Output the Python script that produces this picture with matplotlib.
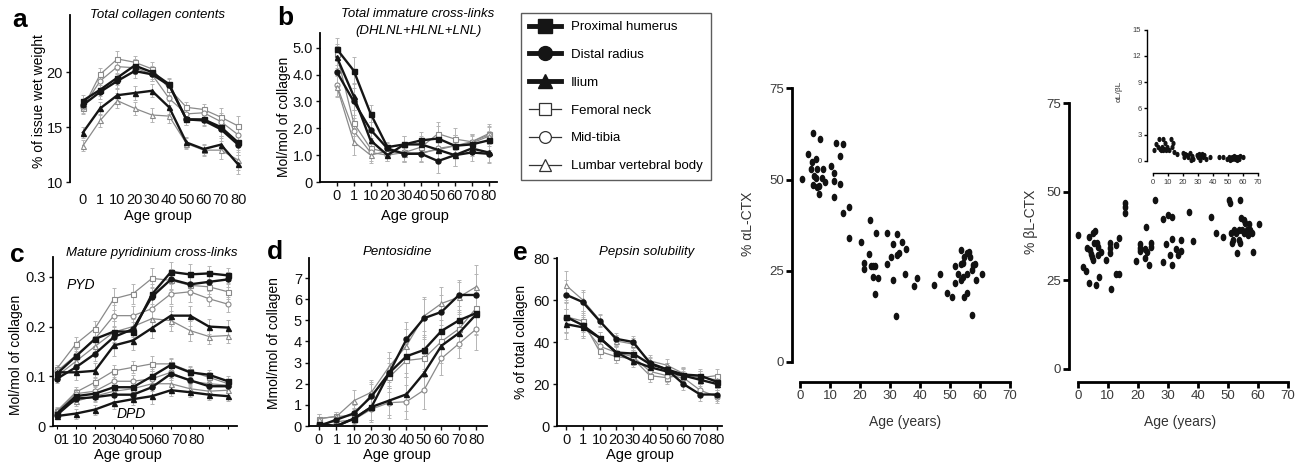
import matplotlib
matplotlib.use("Agg")
import matplotlib.pyplot as plt
from matplotlib.lines import Line2D
from matplotlib.markers import MarkerStyle
from matplotlib.transforms import Affine2D

plt.rcParams["font.family"] = ["Liberation Sans", "DejaVu Sans"]

W, H = 1305, 466

# ---- data ---------------------------------------------------------------
age_groups = ["0", "1", "10", "20", "30", "40", "50", "60", "70", "80"]
sites = ["Proximal humerus", "Distal radius", "Ilium",
         "Femoral neck", "Mid-tibia", "Lumbar vertebral body"]

# a: total collagen contents (% of tissue wet weight), one row per site
collagen_content = [
    [17.4, 18.4, 19.5, 20.6, 20.0, 18.9, 15.7, 15.7, 15.0, 13.6],
    [17.0, 18.2, 19.2, 20.1, 19.8, 18.8, 15.7, 15.6, 14.8, 13.4],
    [14.5, 16.7, 17.9, 18.1, 18.3, 16.8, 13.6, 13.0, 13.4, 11.6],
    [16.7, 19.8, 21.2, 20.9, 20.3, 18.5, 16.8, 16.6, 15.9, 15.1],
    [16.8, 19.2, 20.5, 20.4, 19.8, 17.6, 16.2, 16.3, 15.5, 14.3],
    [13.3, 15.6, 17.4, 16.7, 16.1, 16.0, 13.5, 12.9, 12.9, 12.0],
]
collagen_err = [0.5, 0.6, 0.7, 0.6, 0.6, 0.6, 0.5, 0.5, 0.8, 0.9]

# b: total immature cross-links
immature = [
    [4.95, 4.15, 2.55, 1.30, 1.40, 1.55, 1.62, 1.35, 1.40, 1.55],
    [4.10, 3.00, 1.95, 1.25, 1.05, 1.05, 0.78, 1.00, 1.10, 1.05],
    [4.65, 3.20, 1.55, 1.00, 1.40, 1.40, 1.20, 1.00, 1.25, 1.10],
    [4.75, 2.20, 1.25, 1.10, 1.10, 1.30, 1.80, 1.60, 1.50, 1.80],
    [3.60, 1.90, 1.10, 1.00, 1.10, 1.05, 1.25, 1.35, 1.50, 1.75],
    [3.55, 1.50, 1.00, 1.15, 1.05, 1.10, 1.20, 1.35, 1.45, 1.70],
]
immature_err = [0.4, 0.5, 0.3, 0.2, 0.3, 0.3, 0.45, 0.4, 0.3, 0.35]

# c: mature pyridinium cross-links
pyd = [
    [0.105, 0.140, 0.175, 0.190, 0.190, 0.265, 0.310, 0.305, 0.307, 0.303],
    [0.095, 0.118, 0.145, 0.179, 0.195, 0.260, 0.295, 0.285, 0.290, 0.295],
    [0.108, 0.108, 0.111, 0.162, 0.172, 0.197, 0.222, 0.222, 0.200, 0.198],
    [0.115, 0.165, 0.196, 0.256, 0.266, 0.297, 0.293, 0.283, 0.280, 0.270],
    [0.110, 0.142, 0.175, 0.222, 0.222, 0.236, 0.266, 0.270, 0.256, 0.245],
    [0.100, 0.130, 0.160, 0.189, 0.200, 0.216, 0.212, 0.192, 0.180, 0.182],
]
dpd = [
    [0.025, 0.060, 0.065, 0.078, 0.078, 0.100, 0.123, 0.108, 0.103, 0.090],
    [0.022, 0.055, 0.058, 0.063, 0.063, 0.078, 0.105, 0.092, 0.080, 0.080],
    [0.020, 0.025, 0.033, 0.047, 0.054, 0.060, 0.072, 0.068, 0.063, 0.060],
    [0.030, 0.068, 0.088, 0.111, 0.118, 0.125, 0.125, 0.110, 0.098, 0.085],
    [0.028, 0.065, 0.070, 0.090, 0.090, 0.095, 0.108, 0.090, 0.085, 0.082],
    [0.032, 0.050, 0.060, 0.070, 0.075, 0.085, 0.085, 0.075, 0.070, 0.072],
]
pyd_err = [0.008, 0.015, 0.015, 0.022, 0.02, 0.02, 0.02, 0.02, 0.015, 0.015]
dpd_err = [0.006, 0.01, 0.01, 0.012, 0.012, 0.015, 0.012, 0.01, 0.01, 0.01]
# tick labels of panel c sit off the data positions in the original
pyd_label_pos = [0.05, 0.42, 1.2, 2.26, 3.05, 3.84, 4.74, 5.5, 6.47, 7.37]

# d: pentosidine
pentosidine = [
    [0.10, 0.00, 0.35, 0.90, 2.50, 3.30, 3.60, 4.50, 5.00, 5.35],
    [0.00, 0.30, 0.60, 1.40, 2.50, 4.10, 5.10, 5.40, 6.20, 6.20],
    [0.05, 0.00, 0.35, 0.90, 1.20, 1.50, 2.50, 3.80, 4.40, 5.30],
    [0.35, 0.45, 0.50, 1.50, 2.30, 3.10, 3.20, 4.00, 4.60, 5.60],
    [0.10, 0.20, 0.30, 0.80, 1.10, 1.15, 1.70, 3.20, 3.90, 4.60],
    [0.35, 0.45, 1.20, 1.60, 2.80, 3.80, 5.20, 5.80, 6.10, 6.60],
]
pentosidine_err = [0.2, 0.2, 0.5, 0.6, 0.7, 0.8, 0.9, 0.8, 0.7, 1.0]

# e: pepsin solubility (% of total collagen)
pepsin = [
    [52.0, 48.0, 42.0, 35.0, 34.5, 29.5, 27.0, 24.5, 24.0, 21.0],
    [62.5, 59.0, 50.0, 41.5, 40.0, 30.0, 27.0, 20.0, 15.0, 15.0],
    [48.5, 47.0, 42.0, 35.0, 31.0, 28.0, 26.0, 24.0, 22.0, 20.0],
    [52.0, 50.0, 35.5, 33.0, 32.0, 24.0, 23.0, 24.5, 23.0, 24.0],
    [51.5, 48.0, 38.0, 35.0, 33.0, 26.0, 24.0, 23.0, 17.0, 14.0],
    [67.0, 60.0, 50.5, 40.5, 39.0, 31.0, 29.0, 25.0, 23.0, 22.0],
]
pepsin_err = [7, 5, 3, 3, 3, 3, 3, 3, 3, 3]

# f: % alphaL-CTX by age
alpha_age = [0.6, 2.6, 4.2, 3.6, 3.9, 4.7, 4.4, 5.3, 5.6, 5.3, 5.8, 6.4, 6.3, 6.7,
             7.2, 7.8, 8.3, 10.2, 11.3, 11.3, 11.4, 12.0, 13.3, 13.3, 14.4, 14.2,
             16.3, 16.3, 20.2, 21.3, 21.3, 23.3, 23.1, 23.7, 24.4, 24.2, 25.0, 25.2,
             25.0, 26.1, 29.1, 29.1, 30.2, 31.1, 31.1, 32.2, 32.2, 32.0, 33.1, 34.1,
             35.2, 35.1, 38.0, 38.9, 44.8, 46.7, 48.9, 50.7, 51.7, 51.7, 52.8, 53.6,
             53.7, 53.7, 54.4, 54.7, 54.4, 54.7, 55.6, 55.6, 55.8, 56.4, 56.7, 57.2,
             57.4, 57.8, 58.3, 58.6, 60.6]
alpha_pct = [50.1, 57.0, 62.7, 52.8, 54.9, 51.0, 48.5, 55.5, 53.0, 50.3, 48.0, 48.2,
             45.9, 61.0, 50.3, 53.0, 49.4, 53.7, 51.9, 49.6, 45.3, 60.1, 56.4, 48.9,
             59.7, 40.9, 42.5, 34.0, 32.9, 27.0, 25.6, 38.9, 29.7, 26.3, 26.3, 23.3,
             26.3, 35.4, 18.6, 22.9, 35.4, 26.8, 28.8, 32.3, 22.4, 35.2, 29.3, 12.6,
             29.9, 32.9, 30.9, 24.1, 20.9, 22.9, 21.2, 24.0, 18.8, 17.8, 26.3, 21.7,
             24.2, 30.8, 26.8, 22.4, 23.3, 28.8, 27.0, 17.8, 18.8, 24.2, 29.9, 30.2,
             28.8, 25.3, 12.8, 26.5, 26.8, 22.4, 24.2]

# g: % betaL-CTX by age
beta_age = [0.0, 1.9, 2.8, 3.0, 3.6, 3.9, 4.1, 4.4, 4.7, 5.0, 5.2, 5.4, 5.8, 6.1,
            6.3, 6.6, 6.9, 7.2, 7.7, 9.4, 10.6, 10.8, 10.6, 11.1, 12.8, 13.6, 12.8,
            13.9, 15.8, 15.8, 15.8, 19.4, 20.6, 20.8, 20.8, 22.6, 22.4, 22.4, 23.2,
            23.6, 24.3, 24.3, 25.6, 28.3, 28.3, 29.4, 30.2, 30.6, 31.4, 31.4, 31.4,
            32.6, 33.3, 34.3, 34.3, 37.2, 38.3, 44.3, 46.1, 48.2, 50.2, 50.8, 51.1,
            51.3, 51.7, 52.1, 52.8, 53.0, 53.6, 53.6, 53.9, 54.1, 54.4, 54.7, 55.2,
            55.2, 55.8, 56.3, 56.6, 56.9, 57.2, 58.0, 58.3, 60.2]
beta_pct = [37.7, 28.8, 27.6, 34.0, 24.2, 37.3, 33.5, 32.5, 31.6, 30.7, 38.2, 35.4,
            39.0, 23.6, 35.4, 34.4, 32.1, 25.9, 33.0, 30.7, 35.6, 34.0, 32.7, 22.4,
            34.9, 36.8, 26.7, 26.7, 46.7, 45.6, 43.9, 30.5, 35.1, 34.0, 33.3, 40.1,
            33.7, 31.1, 33.0, 29.2, 35.6, 34.4, 47.6, 42.2, 30.2, 35.1, 43.3, 32.1,
            42.9, 36.5, 29.2, 33.7, 32.1, 36.3, 33.3, 44.1, 36.1, 42.7, 38.2, 37.3,
            47.6, 46.7, 38.2, 35.4, 36.3, 39.2, 38.2, 32.7, 39.2, 36.3, 35.4, 47.6,
            42.5, 39.2, 42.0, 38.2, 41.0, 39.2, 37.7, 40.8, 39.2, 38.4, 33.0, 40.8]

# inset: alphaL/betaL ratio by age
ratio_age = [0.4, 1.8, 2.9, 4.0, 4.5, 4.9, 5.6, 6.3, 6.7, 7.4, 7.8, 8.5, 9.4, 10.7,
             11.6, 12.3, 13.4, 13.9, 15.7, 19.7, 20.6, 21.3, 22.4, 23.5, 24.6, 25.1,
             25.7, 26.8, 29.1, 30.2, 30.9, 31.3, 31.8, 32.4, 33.1, 34.0, 35.3, 38.0,
             44.3, 46.5, 49.2, 51.0, 51.5, 52.6, 53.2, 54.1, 54.8, 55.5, 56.4, 57.0,
             57.7, 58.2, 60.4]
ratio_val = [1.2, 1.9, 1.6, 2.45, 1.4, 1.2, 1.6, 2.45, 1.2, 1.4, 2.0, 1.2, 1.6, 1.2,
             2.55, 1.6, 2.0, 1.05, 0.75, 0.85, 0.45, 0.75, 0.65, 0.45, 0.85, 0.15,
             0.55, 0.25, 0.65, 0.45, 0.75, 0.15, 0.55, 0.75, 0.45, 0.65, 0.25, 0.4,
             0.4, 0.4, 0.25, 0.4, 0.15, 0.45, 0.25, 0.55, 0.25, 0.45, 0.15, 0.45,
             0.25, 0.55, 0.4]

# ---- styling ------------------------------------------------------------
site_markers = ["s", "o", "^", "s", "o", "^"]
site_filled = [True, True, True, False, False, False]
DARK = "#151515"
GRAY = "#8a8a8a"

fig = plt.figure(figsize=(W / 100, H / 100), dpi=100)


def add_axes_px(left, top, right, bottom):
    return fig.add_axes([left / W, 1 - bottom / H, (right - left) / W, (bottom - top) / H])


def text_px(x, y, s, **kw):
    kw.setdefault("ha", "center")
    kw.setdefault("va", "center")
    fig.text(x / W, 1 - y / H, s, **kw)


def style_line_axes(ax, xlim, ylim, yticks, ylabels, show_bottom=True):
    ax.set_xlim(*xlim)
    ax.set_ylim(*ylim)
    for s in ["top", "right"]:
        ax.spines[s].set_visible(False)
    ax.spines["left"].set_linewidth(1.3)
    ax.spines["bottom"].set_linewidth(1.3)
    ax.spines["bottom"].set_visible(show_bottom)
    ax.set_yticks(yticks)
    ax.set_yticklabels(ylabels)
    ax.tick_params(axis="both", labelsize=10.5, length=3, width=1, pad=2, colors="#111")
    ax.patch.set_alpha(0)


def draw_series(ax, data, err):
    x = list(range(len(age_groups)))
    for vals, mk, filled in zip(data, site_markers, site_filled):
        ax.errorbar(x, vals, yerr=err, fmt="none", ecolor="#b5b5b5",
                    elinewidth=0.7, capsize=1.2, capthick=0.7, zorder=1)
        if filled:
            ax.plot(x, vals, color=DARK, lw=1.7, marker=mk, ms=3.6,
                    mfc=DARK, mec=DARK, zorder=3)
        else:
            ax.plot(x, vals, color=GRAY, lw=0.9, marker=mk, ms=3.6,
                    mfc="white", mec=GRAY, mew=0.8, zorder=2)


def set_age_ticks(ax):
    ax.set_xticks(range(len(age_groups)))
    ax.set_xticklabels(age_groups)


# a
ax_a = add_axes_px(70, 15, 245, 182)
draw_series(ax_a, collagen_content, collagen_err)
style_line_axes(ax_a, (-0.75, 9.4), (10, 25.2), [10, 15, 20], ["10", "15", "20"], show_bottom=False)
set_age_ticks(ax_a)
ax_a.tick_params(axis="x", length=0, pad=8)
text_px(20, 20, "a", fontsize=19, fontweight="bold")
text_px(157, 15, "Total collagen contents", fontsize=9.5, style="italic")
text_px(39, 101, "% of issue wet weight", fontsize=10, rotation=90)
text_px(158, 216, "Age group", fontsize=10.5)

# b
ax_b = add_axes_px(320, 33, 497, 182)
draw_series(ax_b, immature, immature_err)
style_line_axes(ax_b, (-1.0, 9.5), (0, 5.55), [0, 1, 2, 3, 4, 5],
                ["0", "1.0", "2.0", "3.0", "4.0", "5.0"])
set_age_ticks(ax_b)
text_px(285, 18, "b", fontsize=19, fontweight="bold")
text_px(418, 14, "Total immature cross-links", fontsize=9.5, style="italic")
text_px(418, 31, "(DHLNL+HLNL+LNL)", fontsize=9.5, style="italic")
text_px(284, 117, "Mol/mol of collagen", fontsize=10, rotation=90)
text_px(415, 216, "Age group", fontsize=10.5)

# legend
handles = []
for mk, filled in zip(site_markers, site_filled):
    if filled:
        handles.append(Line2D([], [], color=DARK, lw=3.5, marker=mk, ms=10, mfc=DARK, mec=DARK))
    else:
        handles.append(Line2D([], [], color="#333", lw=0.9, marker=mk, ms=8.5, mfc="white",
                              mec="#333", mew=0.9))
fig.legend(handles, sites, loc="upper left", bbox_to_anchor=(521 / W, 1 - 13 / H),
           frameon=True, fancybox=False, edgecolor="#333", fontsize=9.5,
           handlelength=2.4, labelspacing=1.18, borderpad=0.6, handletextpad=0.8,
           borderaxespad=0)

# c
ax_c = add_axes_px(53, 257, 237, 426)
draw_series(ax_c, pyd, pyd_err)
draw_series(ax_c, dpd, dpd_err)
style_line_axes(ax_c, (-0.2, 9.47), (0, 0.34), [0, 0.1, 0.2, 0.3], ["0", "0.1", "0.2", "0.3"])
ax_c.set_xticks(range(len(age_groups)), minor=True)
ax_c.set_xticks(pyd_label_pos)
ax_c.set_xticklabels(age_groups)
ax_c.tick_params(axis="x", which="major", length=0, pad=5)
ax_c.tick_params(axis="x", which="minor", length=2.5, width=0.8)
text_px(17, 255, "c", fontsize=19, fontweight="bold")
text_px(152, 253, "Mature pyridinium cross-links", fontsize=9.5, style="italic")
text_px(67, 285, "PYD", fontsize=10, style="italic", ha="left")
text_px(117, 414, "DPD", fontsize=10, style="italic", ha="left")
text_px(16, 355, "Mol/mol of collagen", fontsize=10, rotation=90)
text_px(128, 455, "Age group", fontsize=10.5)

# d
ax_d = add_axes_px(309, 258, 487, 426)
draw_series(ax_d, pentosidine, pentosidine_err)
style_line_axes(ax_d, (-0.57, 9.6), (0, 7.95), list(range(8)), [str(v) for v in range(8)])
set_age_ticks(ax_d)
text_px(275, 252, "d", fontsize=19, fontweight="bold")
text_px(397, 252, "Pentosidine", fontsize=9.5, style="italic")
text_px(274, 343, "Mmol/mol of collagen", fontsize=10, rotation=90)
text_px(397, 455, "Age group", fontsize=10.5)

# e
ax_e = add_axes_px(557, 258, 722, 426)
draw_series(ax_e, pepsin, pepsin_err)
style_line_axes(ax_e, (-0.54, 9.3), (0, 80), [0, 20, 40, 60, 80], ["0", "20", "40", "60", "80"])
set_age_ticks(ax_e)
text_px(520, 253, "e", fontsize=19, fontweight="bold")
text_px(647, 252, "Pepsin solubility", fontsize=9.5, style="italic")
text_px(521, 342, "% of total collagen", fontsize=10, rotation=90)
text_px(640, 455, "Age group", fontsize=10.5)

# scatter panels
oval = MarkerStyle("o", transform=Affine2D().scale(0.7, 1.0))


def style_scatter_axes(ax, xlim, ylim, yticks, lw, labelsize, ticklen):
    ax.set_xlim(*xlim)
    ax.set_ylim(*ylim)
    for s in ["top", "right"]:
        ax.spines[s].set_visible(False)
    ax.spines["left"].set_bounds(yticks[0], yticks[-1])
    ax.spines["bottom"].set_bounds(0, 70)
    ax.spines["left"].set_linewidth(lw)
    ax.spines["bottom"].set_linewidth(lw)
    ax.set_yticks(yticks)
    ax.set_xticks(range(0, 71, 10))
    ax.tick_params(axis="both", labelsize=labelsize, length=ticklen, width=lw,
                   labelcolor="#3a3a3a", pad=2)
    ax.patch.set_alpha(0)


ax_f = add_axes_px(792, 81, 1016, 382)
ax_f.plot(alpha_age, alpha_pct, ls="none", marker=oval, ms=4.4, color="#111")
style_scatter_axes(ax_f, (-2.7, 72), (-5.5, 77), [0, 25, 50, 75], 2.0, 9.5, 4)
text_px(748, 224, "% \u03b1L-CTX", fontsize=10, rotation=90, color="#333")
text_px(905, 422, "Age (years)", fontsize=10, color="#333")

ax_g = add_axes_px(1069, 96, 1294, 382)
ax_g.plot(beta_age, beta_pct, ls="none", marker=oval, ms=4.4, color="#111")
style_scatter_axes(ax_g, (-2.9, 72), (-3.8, 77), [0, 25, 50, 75], 2.0, 9.5, 4)
text_px(1031, 222, "% \u03b2L-CTX", fontsize=10, rotation=90, color="#333")
text_px(1180, 422, "Age (years)", fontsize=10, color="#333")

ax_in = add_axes_px(1147, 27, 1259, 173)
ax_in.plot(ratio_age, ratio_val, ls="none", marker=oval, ms=2.8, color="#111")
style_scatter_axes(ax_in, (-4.2, 71), (-1.38, 15.3), [0, 3, 6, 9, 12, 15], 1.0, 5.5, 2)
text_px(1119, 91, "\u03b1L/\u03b2L", fontsize=6, rotation=90, color="#333")

fig.savefig("out.png", dpi=100)
